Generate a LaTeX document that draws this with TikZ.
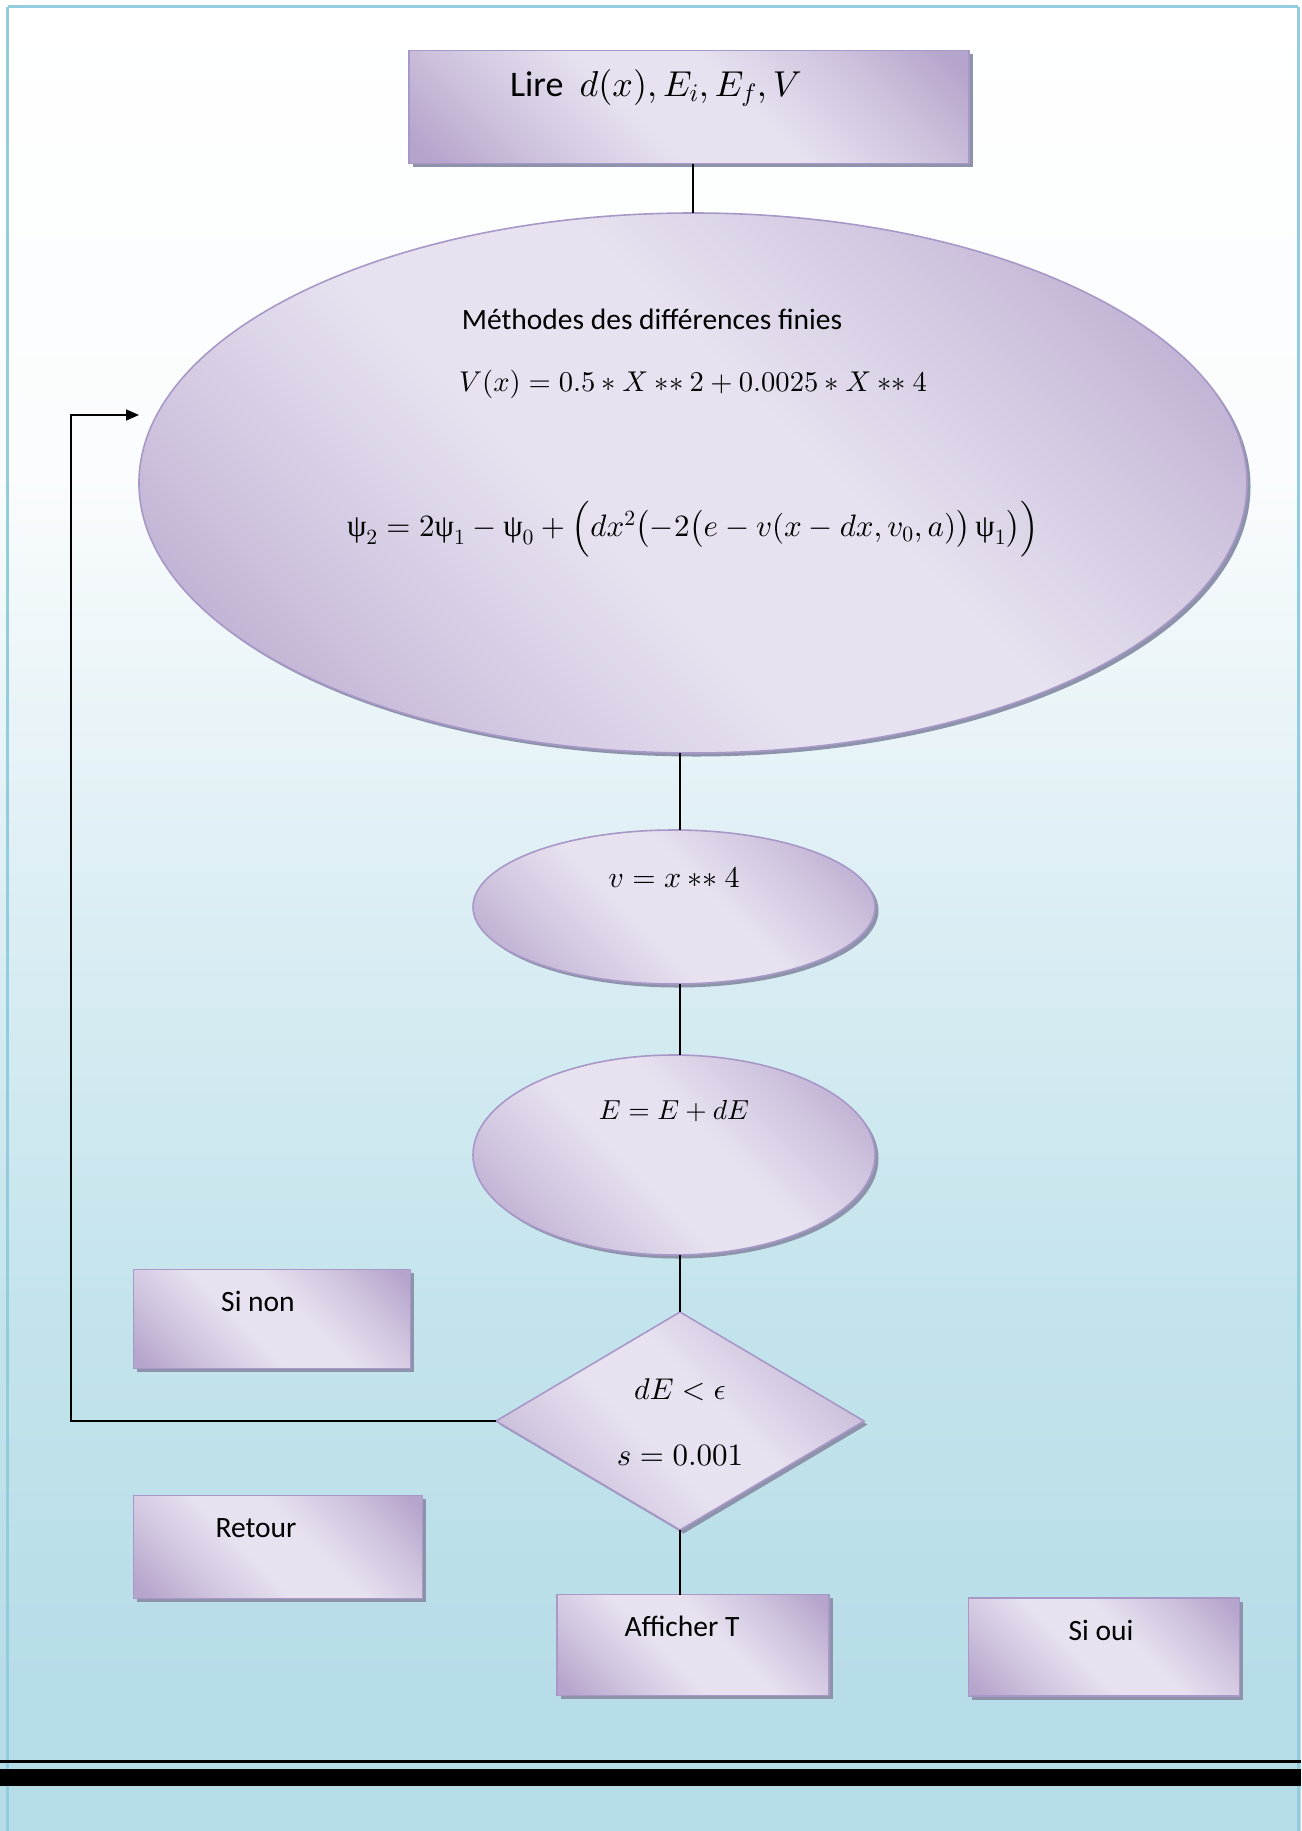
\documentclass[tikz,border=0pt]{standalone}
\usepackage{amsmath}
\usepackage{fontspec}
\setmainfont{Carlito}
\newfontfamily\grkfont{Liberation Serif}
\DeclareFontShape{OML}{cmm}{m}{it}{<->cmmi10}{}
\DeclareFontShape{OMS}{cmsy}{m}{n}{<->cmsy10}{}
\DeclareFontShape{OT1}{cmr}{m}{n}{<->cmr10}{}
\DeclareFontShape{OMX}{cmex}{m}{n}{<->cmex10}{}
\usetikzlibrary{shapes.geometric,shadows,arrows.meta}
\definecolor{lavD}{HTML}{B5A4CB}
\definecolor{lavL}{HTML}{E8E2F0}
\definecolor{lavM}{HTML}{D0C5DF}
\definecolor{lavO}{HTML}{A898C8}
\definecolor{shadowc}{HTML}{8C93AA}
\definecolor{bgB}{HTML}{B7DDE8}
\definecolor{bgC}{HTML}{C4E4EC}
\definecolor{bgM}{HTML}{DCEEF4}
\definecolor{bgW}{HTML}{FAFCFD}
\definecolor{bordc}{HTML}{93CDDD}
\pgfdeclarehorizontalshading{lavshade}{100bp}{color(0bp)=(lavD); color(17bp)=(lavD); color(30bp)=(lavM); color(44bp)=(lavL); color(56bp)=(lavL); color(70bp)=(lavM); color(83bp)=(lavD); color(100bp)=(lavD)}
\pgfdeclareverticalshading{bgshade}{100bp}{color(0bp)=(bgB); color(29bp)=(bgB); color(39.5bp)=(bgC); color(50.5bp)=(bgM); color(62bp)=(bgW); color(75bp)=(white); color(100bp)=(white)}
\newcommand\mypsi{\text{\grkfont ψ}}
\begin{document}
\begin{tikzpicture}[x=1pt,y=-1pt,
  every node/.style={inner sep=0pt, outer sep=0pt},
  txt/.style={font=\fontsize{29.5}{35}\selectfont, text=black},
  mth/.style={font=\fontsize{30}{36}\selectfont, text=black},
  shp/.style={shading=lavshade, shading angle=45, draw=lavO, line width=1.6pt,
    drop shadow={shadow xshift=3.5pt, shadow yshift=-3.5pt, fill=shadowc, opacity=1}},
  conn/.style={draw=black, line width=1.6pt}]
\useasboundingbox (0,0) rectangle (1301,1831);
% background
\shade[shading=bgshade] (0,0) rectangle (1301,1831);
\draw[bordc, line width=3pt] (7.5,6.5) -- (1298,6.5);
\draw[bordc, line width=3pt] (7.5,6.5) -- (7.5,1831);
\draw[bordc, line width=3pt] (1298,6.5) -- (1298,1831);
% bottom rules
\fill[black] (0,1759.5) rectangle (1301,1762.5);
\fill[black] (0,1769) rectangle (1301,1786);
% shapes
\node[shp, rectangle, minimum width=560pt, minimum height=113pt] (top) at (689,107) {};
\node[shp, ellipse, minimum width=1108pt, minimum height=540pt] (big) at (693,483) {};
\node[shp, ellipse, minimum width=402pt, minimum height=154pt] (e2) at (674,907) {};
\node[shp, ellipse, minimum width=402pt, minimum height=200pt] (e3) at (674,1155) {};
\node[shp, diamond, minimum width=368pt, minimum height=218pt] (dia) at (680,1421) {};
\node[shp, rectangle, minimum width=272pt, minimum height=101pt] (aff) at (693,1645) {};
\node[shp, rectangle, minimum width=271pt, minimum height=98pt] (oui) at (1104,1647) {};
\node[shp, rectangle, minimum width=277pt, minimum height=99pt] (non) at (272,1319) {};
\node[shp, rectangle, minimum width=289pt, minimum height=103pt] (ret) at (278,1547) {};
% texts
\node[txt, font=\fontsize{36}{42}\selectfont] (ttop) at (656,88) {Lire\ \ $d(x), E_i, E_f, V$};
\node[txt] (tmeth) at (652,319) {Méthodes des différences finies};
\node[mth, font=\fontsize{28.6}{34}\selectfont] (tv) at (693,384) {$V(x) = 0.5 \ast X \mathbin{\ast\ast} 2 + 0.0025 \ast X \mathbin{\ast\ast} 4$};
\node[mth, font=\fontsize{31}{37}\selectfont] (tpsi) at (693,529) {$\mypsi_2 = 2\mypsi_1 - \mypsi_0 + \Bigl(dx^2\bigl(-2\bigl(e - v(x - dx, v_0, a)\bigr)\,\mypsi_1\bigr)\Bigr)$};
\node[mth] (te2) at (674,878) {$v = x \mathbin{\ast\ast} 4$};
\node[mth, font=\fontsize{27.5}{33}\selectfont] (te3) at (674,1111) {$E = E + dE$};
\node[mth] (td1) at (680,1390) {$dE < \epsilon$};
\node[mth, font=\fontsize{31}{37}\selectfont] (td2) at (680,1455) {$s = 0.001$};
\node[txt] (taff) at (682,1626) {Afficher T};
\node[txt] (toui) at (1101,1630) {Si oui};
\node[txt] (tnon) at (258,1301) {Si non};
\node[txt] (tret) at (256,1528) {Retour};
% connectors
\draw[conn] (big.north |- top.south) -- (big.north);
\draw[conn] (dia.north |- big.south) -- (dia.north |- e2.north);
\draw[conn] (dia.north |- e2.south) -- (dia.north |- e3.north);
\draw[conn] (dia.north |- e3.south) -- (dia.north);
\draw[conn] (dia.south) -- (dia.south |- aff.north);
\coordinate (lp) at (71,415);
\coordinate (le) at (139,415);
\draw[conn, -{Triangle[length=13pt,width=11pt]}] (dia.west) -| (lp) -- (le);
\end{tikzpicture}
\end{document}
